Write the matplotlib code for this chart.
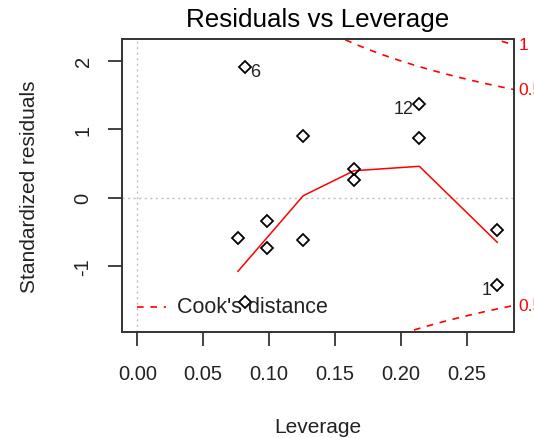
import numpy as np
import matplotlib
matplotlib.use("Agg")
import matplotlib.pyplot as plt

plt.rcParams['font.family'] = ['Liberation Sans', 'DejaVu Sans']

# Data
leverage = [0.0817, 0.2140, 0.1259, 0.2140, 0.1644, 0.1644, 0.0982,
            0.0764, 0.1259, 0.0982, 0.2731, 0.2731, 0.0817]
std_resid = [1.906, 1.365, 0.896, 0.871, 0.417, 0.261, -0.348,
             -0.597, -0.622, -0.744, -0.476, -1.281, -1.526]
point_ids = [6, 12, None, None, None, None, None, None, None, None, None, 1, None]

smooth_x = [0.0764, 0.0817, 0.0982, 0.1259, 0.1644, 0.2140, 0.2731]
smooth_y = [-1.081, -0.962, -0.594, 0.026, 0.392, 0.457, -0.656]

n_params = 2
cook_levels = [0.5, 1.0]
cook_labels = ["0.5", "1"]

xlim = (-0.0118, 0.2858)
ylim = (-1.965, 2.321)
xticks = [0.00, 0.05, 0.10, 0.15, 0.20, 0.25]
xticklabels = ["0.00", "0.05", "0.10", "0.15", "0.20", "0.25"]
yticks = [-1, 0, 1, 2]
yticklabels = ["-1", "0", "1", "2"]

TXT = '#222222'
fig = plt.figure(figsize=(5.34, 4.39), dpi=100)
ax = fig.add_axes([121.7/534, 1-332.7/439, (514-121.7)/534, (332.7-40)/439])

ax.axhline(0, color='#BEBEBE', ls=(0, (1.5, 2.5)), lw=1.0, zorder=1)
ax.axvline(0, color='#BEBEBE', ls=(0, (1.5, 2.5)), lw=1.0, zorder=1)

ax.plot(leverage, std_resid, ls='none', marker='D', ms=6.2, mfc='none',
        mec='black', mew=1.3, zorder=3)
ax.plot(smooth_x, smooth_y, color='red', lw=1.1, zorder=2)

hh = np.linspace(0.005, xlim[1], 101)
for lev, lab in zip(cook_levels, cook_labels):
    cy = np.sqrt(lev * n_params * (1 - hh) / hh)
    ax.plot(hh, cy, color='red', ls=(0, (4, 4)), lw=1.2, zorder=2)
    ax.plot(hh, -cy, color='red', ls=(0, (4, 4)), lw=1.2, zorder=2)
    yv = np.sqrt(lev * n_params * (1 - xlim[1]) / xlim[1])
    for s in (1, -1):
        if ylim[0] < s * yv < ylim[1]:
            ax.text(xlim[1] + 0.0035, s * yv, lab, color='red', fontsize=12.5,
                    ha='left', va='center', clip_on=False)

for x, y, pid in zip(leverage, std_resid, point_ids):
    if pid is None:
        continue
    if pid == 6:
        ax.annotate(str(pid), (x, y), xytext=(4, -3), textcoords='offset points',
                    ha='left', va='center', fontsize=13, color=TXT)
    else:
        ax.annotate(str(pid), (x, y), xytext=(-4, -3), textcoords='offset points',
                    ha='right', va='center', fontsize=13, color=TXT)

ax.set_xlim(*xlim)
ax.set_ylim(*ylim)
ax.set_xticks(xticks)
ax.set_xticklabels(xticklabels)
ax.set_yticks(yticks)
ax.set_yticklabels(yticklabels, rotation=90, va='center')
ax.tick_params(axis='both', length=10, width=1.3, color='#333333',
               labelsize=14.5, labelcolor=TXT)
ax.tick_params(axis='x', pad=13)
ax.tick_params(axis='y', pad=11)
for sp in ax.spines.values():
    sp.set_linewidth(1.4)
    sp.set_color('#333333')

ax.set_xlabel("Leverage", fontsize=15, color=TXT, labelpad=25)
ax.set_ylabel("Standardized residuals", fontsize=15, color=TXT, labelpad=25)
ax.set_title("Residuals vs Leverage", fontsize=18.7, pad=9)

# legend
ax.plot([0.0, 0.022], [-1.6, -1.6], color='red', ls=(0, (4, 4)), lw=1.2)
ax.text(0.0305, -1.6, "Cook's distance", fontsize=15.5, color=TXT,
        ha='left', va='center')

fig.savefig("out.png", dpi=100)
